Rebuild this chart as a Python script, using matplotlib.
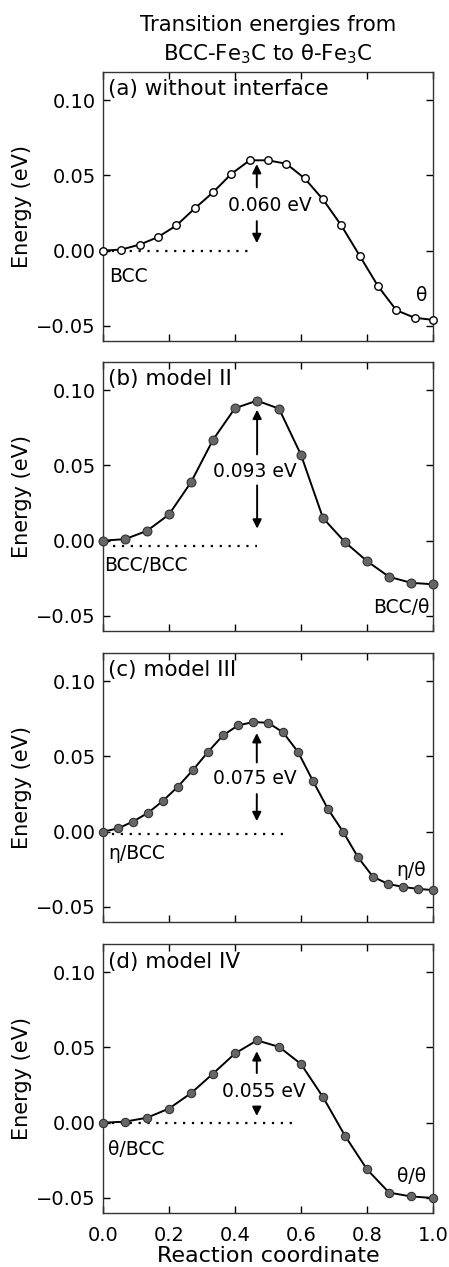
import numpy as np
import matplotlib
matplotlib.use("Agg")
import matplotlib.pyplot as plt

# Energies (eV), evenly spaced images along the path
E_a = [0.000, 0.0007, 0.004, 0.009, 0.0167, 0.028, 0.0387, 0.051, 0.060, 0.060,
       0.0577, 0.048, 0.034, 0.0167, -0.0034, -0.0236, -0.0396, -0.0446, -0.046]
E_b = [0.000, 0.001, 0.0065, 0.0174, 0.0388, 0.067, 0.088, 0.093, 0.0877, 0.057,
       0.015, -0.001, -0.0136, -0.024, -0.028, -0.029]
E_c = [0.000, 0.0022, 0.0067, 0.0125, 0.0205, 0.030, 0.041, 0.053, 0.064, 0.0706,
       0.0728, 0.0724, 0.066, 0.053, 0.0336, 0.015, 0.000, -0.017, -0.030, -0.0347,
       -0.0367, -0.038, -0.0388]
E_d = [0.000, 0.0007, 0.0033, 0.0094, 0.0196, 0.0326, 0.046, 0.0547, 0.0504, 0.039,
       0.017, -0.0087, -0.031, -0.0464, -0.049, -0.050]

panel_titles = ["(a) without interface", "(b) model II", "(c) model III", "(d) model IV"]
barriers = ["0.060 eV", "0.093 eV", "0.075 eV", "0.055 eV"]
start_labels = ["BCC", "BCC/BCC", "η/BCC", "θ/BCC"]
end_labels = ["θ", "BCC/θ", "η/θ", "θ/θ"]

plt.rcParams["font.family"] = ["DejaVu Sans"]
plt.rcParams["font.size"] = 13.5

fig = plt.figure(figsize=(4.49, 12.67), dpi=100)

# axes boxes (figure fraction)
L, W, H = 0.2294, 0.735, 0.2123
bottoms = [0.7309, 0.5020, 0.2723, 0.0426]

# per panel annotation settings: (arrow x, up arrow from/to, down arrow from/to, text x, text y,
# dotted x range, dotted y, start label pos, end label pos, end label ha)
ann = [
    (0.466, (0.042, 0.0575), (0.0196, 0.005), 0.505, 0.0297, (0.0, 0.458), 0.0,
     (0.02, -0.017), (0.965, -0.030), "center"),
    (0.467, (0.0573, 0.087), (0.0367, 0.008), 0.46, 0.046, (0.03, 0.467), -0.0036,
     (0.003, -0.0165), (0.99, -0.0444), "right"),
    (0.466, (0.046, 0.0655), (0.025, 0.007), 0.46, 0.035, (0.0, 0.552), -0.0015,
     (0.016, -0.0147), (0.932, -0.026), "center"),
    (0.466, (0.033, 0.0475), (0.0105, 0.0045), 0.486, 0.0207, (0.0, 0.574), 0.0,
     (0.015, -0.018), (0.935, -0.036), "center"),
]

series = [E_a, E_b, E_c, E_d]
for k, E in enumerate(series):
    ax = fig.add_axes([L, bottoms[k], W, H])
    x = np.linspace(0, 1, len(E))
    if k == 0:
        ax.plot(x, E, "-o", color="black", lw=1.4, ms=5.4, mfc="white", mec="black",
                mew=1.0, clip_on=False, zorder=3)
    else:
        ax.plot(x, E, "-o", color="black", lw=1.4, ms=6.4 if k == 1 else 6.0,
                mfc="#666666", mec="#333333", mew=0.8, clip_on=False, zorder=3)

    ax_x, up, dn, tx, ty, dx, dy, sp, ep, eha = ann[k]
    ax.plot(dx, [dy, dy], color="black", ls=(0, (1, 3.0)), lw=1.6)
    for a0, a1 in (up, dn):
        ax.annotate("", xy=(ax_x, a1), xytext=(ax_x, a0),
                    arrowprops=dict(arrowstyle="-|>", color="black", lw=1.4,
                                    mutation_scale=13, shrinkA=0, shrinkB=0))
    ax.text(tx, ty, barriers[k], ha="center", va="center", fontsize=13.5)
    ax.text(sp[0], sp[1], start_labels[k], ha="left", va="center", fontsize=13.5)
    ax.text(ep[0], ep[1], end_labels[k], ha=eha, va="center", fontsize=13.5)
    ax.text(0.015, 0.935, panel_titles[k], transform=ax.transAxes, ha="left",
            va="center", fontsize=15.5)

    ax.set_xlim(0, 1)
    ax.set_ylim(-0.06, 0.1187)
    ax.set_xticks([0.0, 0.2, 0.4, 0.6, 0.8, 1.0])
    ax.set_yticks([-0.05, 0.0, 0.05, 0.10])
    ax.set_yticklabels(["\u22120.05", "0.00", "0.05", "0.10"])
    ax.tick_params(direction="in", top=True, right=True, length=5, width=1,
                   labelsize=14, pad=5)
    for s in ax.spines.values():
        s.set_color("#333333")
        s.set_linewidth(1.0)
    ax.set_ylabel("Energy (eV)", fontsize=15, labelpad=3)
    if k < 3:
        ax.tick_params(labelbottom=False)
    else:
        ax.tick_params(axis="x", pad=9)
        ax.set_xlabel("Reaction coordinate", fontsize=16, labelpad=1)

fig.text(0.597, 0.980, "Transition energies from", ha="center", va="center", fontsize=15.3)
fig.text(0.597, 0.957, "BCC-Fe$_3$C to θ-Fe$_3$C", ha="center", va="center", fontsize=15.3)

fig.savefig("out.png", dpi=100)
